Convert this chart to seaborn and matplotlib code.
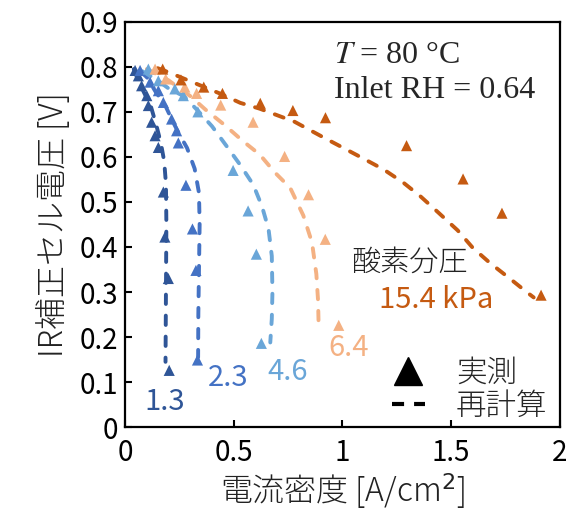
import matplotlib
matplotlib.use("Agg")
import matplotlib.pyplot as plt
import numpy as np
import pandas as pd
import seaborn as sns
from matplotlib.lines import Line2D

# Oxygen partial pressures [kPa] and their colours
pressures = ["1.3", "2.3", "4.6", "6.4", "15.4"]
colors = {"1.3": "#2F5597", "2.3": "#4472C4", "4.6": "#6AA6D8",
          "6.4": "#F4B183", "15.4": "#C55A11"}

# Measured IR-free cell voltage (current density [A/cm2], voltage [V])
meas_i_13 = [0.046, 0.061, 0.076, 0.100, 0.107, 0.122, 0.138, 0.153, 0.176, 0.183, 0.199, 0.203]
meas_v_13 = [0.792, 0.780, 0.758, 0.736, 0.714, 0.677, 0.647, 0.621, 0.522, 0.422, 0.330, 0.126]
meas_i_23 = [0.069, 0.115, 0.153, 0.176, 0.214, 0.237, 0.245, 0.280, 0.310, 0.326, 0.333]
meas_v_23 = [0.792, 0.766, 0.747, 0.721, 0.684, 0.658, 0.631, 0.537, 0.440, 0.348, 0.149]
meas_i_46 = [0.107, 0.153, 0.229, 0.268, 0.335, 0.497, 0.566, 0.604, 0.627]
meas_v_46 = [0.795, 0.769, 0.751, 0.736, 0.700, 0.570, 0.480, 0.384, 0.186]
meas_i_64 = [0.138, 0.187, 0.275, 0.329, 0.440, 0.589, 0.734, 0.844, 0.921, 0.983]
meas_v_64 = [0.795, 0.773, 0.755, 0.741, 0.715, 0.677, 0.601, 0.516, 0.417, 0.226]
meas_i_154 = [0.173, 0.257, 0.362, 0.448, 0.622, 0.772, 0.922, 1.295, 1.555, 1.734, 1.914]
meas_v_154 = [0.795, 0.771, 0.755, 0.741, 0.719, 0.703, 0.687, 0.625, 0.551, 0.475, 0.293]

# Recalculated polarization curves
calc_i_13 = [0.040, 0.060, 0.090, 0.120, 0.145, 0.165, 0.180, 0.188, 0.190, 0.188, 0.186]
calc_v_13 = [0.795, 0.770, 0.740, 0.710, 0.668, 0.630, 0.590, 0.540, 0.450, 0.300, 0.145]
calc_i_23 = [0.070, 0.100, 0.140, 0.185, 0.220, 0.250, 0.285, 0.320, 0.340, 0.343, 0.340, 0.337, 0.336]
calc_v_23 = [0.790, 0.777, 0.745, 0.714, 0.678, 0.650, 0.620, 0.574, 0.520, 0.450, 0.350, 0.250, 0.155]
calc_i_46 = [0.080, 0.150, 0.200, 0.270, 0.330, 0.400, 0.470, 0.530, 0.590, 0.630, 0.660, 0.675, 0.678, 0.675, 0.668]
calc_v_46 = [0.790, 0.770, 0.752, 0.735, 0.705, 0.668, 0.622, 0.582, 0.538, 0.490, 0.440, 0.380, 0.300, 0.240, 0.188]
calc_i_64 = [0.100, 0.200, 0.300, 0.370, 0.460, 0.540, 0.620, 0.690, 0.760, 0.820, 0.860, 0.880, 0.888, 0.890]
calc_v_64 = [0.795, 0.770, 0.735, 0.705, 0.670, 0.636, 0.605, 0.565, 0.531, 0.470, 0.410, 0.340, 0.280, 0.235]
calc_i_154 = [0.150, 0.200, 0.300, 0.440, 0.530, 0.620, 0.780, 0.910, 1.000, 1.090, 1.190, 1.280,
              1.360, 1.440, 1.530, 1.600, 1.680, 1.770, 1.850, 1.880]
calc_v_154 = [0.797, 0.788, 0.768, 0.740, 0.720, 0.707, 0.678, 0.644, 0.621, 0.598, 0.572, 0.543,
              0.512, 0.477, 0.437, 0.398, 0.364, 0.330, 0.299, 0.288]

meas = {"1.3": (meas_i_13, meas_v_13), "2.3": (meas_i_23, meas_v_23),
        "4.6": (meas_i_46, meas_v_46), "6.4": (meas_i_64, meas_v_64),
        "15.4": (meas_i_154, meas_v_154)}
calc = {"1.3": (calc_i_13, calc_v_13), "2.3": (calc_i_23, calc_v_23),
        "4.6": (calc_i_46, calc_v_46), "6.4": (calc_i_64, calc_v_64),
        "15.4": (calc_i_154, calc_v_154)}

# Series labels: text and position in data units
label_text = ["1.3", "2.3", "4.6", "6.4", "15.4 kPa"]
label_x = [0.183, 0.472, 0.748, 1.028, 1.431]
label_y = [0.055, 0.109, 0.122, 0.175, 0.282]

df_meas = pd.concat([pd.DataFrame({"i": meas[p][0], "v": meas[p][1], "p": p}) for p in pressures])
df_calc = pd.concat([pd.DataFrame({"i": calc[p][0], "v": calc[p][1], "p": p}) for p in pressures])

sns.set_style("ticks")
plt.rcParams["font.family"] = ["Noto Sans CJK JP", "DejaVu Sans"]
plt.rcParams["font.weight"] = "normal"

fig = plt.figure(figsize=(5.66, 5.19), dpi=100)
ax = fig.add_axes([0.221, 0.177, 0.768, 0.781])

for p in pressures:
    sub = df_calc[df_calc["p"] == p]
    sns.lineplot(data=sub, x="i", y="v", color=colors[p], sort=False, estimator=None,
                 linewidth=2.8, linestyle=(0, (2.4, 3.0)), dash_capstyle="round",
                 ax=ax, legend=False, zorder=2)

sns.scatterplot(data=df_meas, x="i", y="v", hue="p", palette=colors, marker="^",
                s=64, linewidth=0, ax=ax, legend=False, zorder=3)

for t, x, y, p in zip(label_text, label_x, label_y, pressures):
    ax.text(x, y, t, color=colors[p], fontsize=21, ha="center", va="center")
ax.text(1.307, 0.366, "酸素分圧", color="#222222", fontsize=21, ha="center", va="center",
        weight="light")

ax.text(0.963, 0.825, r"$T$ = 80 °C", fontsize=23, ha="left", va="center",
        family="Liberation Serif", math_fontfamily="stix")
ax.text(0.963, 0.747, "Inlet RH = 0.64", fontsize=23, ha="left", va="center",
        family="Liberation Serif")

handles = [Line2D([], [], marker="^", color="black", linestyle="none", markersize=20),
           Line2D([], [], color="black", linewidth=3, linestyle=(0, (2.9, 2.4)))]
ax.legend(handles, ["実測", "再計算"], loc="upper left", bbox_to_anchor=(0.585, 0.205),
          frameon=False, handlelength=1.1, handletextpad=1.0,
          labelspacing=0.05, borderaxespad=0, prop={"size": 22, "weight": "light"})

ax.set_xlim(0, 2)
ax.set_ylim(0, 0.9)
ax.set_xticks([0, 0.5, 1, 1.5, 2])
ax.set_xticklabels(["0", "0.5", "1", "1.5", "2"])
ax.set_yticks(np.arange(0, 0.91, 0.1))
ax.set_yticklabels(["0"] + [f"{v:.1f}" for v in np.arange(0.1, 0.91, 0.1)])
ax.tick_params(direction="in", length=5, width=1.5, labelsize=20, colors="black")
ax.tick_params(axis="x", pad=8)
ax.tick_params(axis="y", pad=5)
for s in ax.spines.values():
    s.set_visible(True)
    s.set_linewidth(1.6)
    s.set_color("black")

ax.set_xlabel("電流密度 [A/cm$^2$]", fontsize=23, color="#222222", labelpad=2, weight="light")
ax.set_ylabel("IR補正セル電圧 [V]", fontsize=23, color="#222222", labelpad=6, weight="light")

fig.savefig("out.png", dpi=100)
